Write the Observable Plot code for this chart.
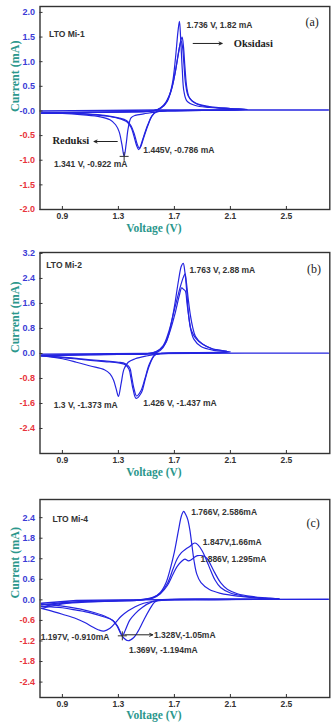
<!DOCTYPE html>
<html>
<head>
<meta charset="utf-8">
<script src="https://cdn.jsdelivr.net/npm/d3@7"></script>
<script src="https://cdn.jsdelivr.net/npm/@observablehq/plot@0.6"></script>
<style>
  html, body { margin: 0; padding: 0; background: #fff; }
  #chart svg { display: block; overflow: visible; }
</style>
</head>
<body>
<div id="chart"></div>
<script>
// Cyclic voltammograms of three LTO samples, current (mA) against voltage (V).

const xTicks = [0.9, 1.3, 1.7, 2.1, 2.5];
const xTickLabels = ["0.9", "1.3", "1.7", "2.1", "2.5"];

// ---- LTO Mi-1 -------------------------------------------------------------
const mi1YTicks = [2.0, 1.5, 1.0, 0.5, 0.0, -0.5, -1.0, -1.5, -2.0];
const mi1YTickLabels = ["2.0", "1.5", "1.0", "0.5", "-0.0", "-0.5", "-1.0", "-1.5", "-2.0"];
const mi1Baseline = [[0.75, 0.0], [1.2, 0.01], [1.6, 0.02], [2.2, 0.02], [2.8, 0.02]];
const mi1Cycle1 = [
  [0.75, -0.05], [0.9, -0.04], [1.1, -0.03], [1.3, -0.02], [1.45, -0.01], [1.55, 0.0],
  [1.6, 0.05], [1.65, 0.2], [1.685, 0.55], [1.708, 1.08], [1.725, 1.6], [1.736, 1.82],
  [1.745, 1.45], [1.756, 0.85], [1.768, 0.4], [1.79, 0.2], [1.85, 0.11], [1.95, 0.07],
  [2.1, 0.04], [2.2, 0.03], [2.0, 0.015], [1.8, 0.01], [1.6, 0.0], [1.55, -0.03],
  [1.48, -0.06], [1.42, -0.09], [1.39, -0.14], [1.37, -0.35], [1.355, -0.68], [1.341, -0.922],
  [1.325, -0.68], [1.305, -0.42], [1.28, -0.28], [1.24, -0.18], [1.17, -0.12], [1.05, -0.08],
  [0.9, -0.05], [0.75, -0.05]
];
const mi1Cycle2 = [
  [0.75, -0.04], [1.0, -0.03], [1.3, -0.02], [1.5, -0.01], [1.58, 0.03], [1.63, 0.13],
  [1.67, 0.35], [1.7, 0.7], [1.725, 1.1], [1.745, 1.42], [1.755, 1.5], [1.765, 1.3],
  [1.775, 0.9], [1.79, 0.45], [1.81, 0.25], [1.86, 0.14], [1.95, 0.08], [2.1, 0.05],
  [2.22, 0.03], [1.9, 0.01], [1.65, 0.0], [1.57, -0.02], [1.54, -0.1], [1.51, -0.3],
  [1.48, -0.55], [1.46, -0.72], [1.445, -0.786], [1.43, -0.7], [1.41, -0.5], [1.39, -0.33],
  [1.36, -0.22], [1.3, -0.15], [1.2, -0.1], [1.05, -0.06], [0.9, -0.04], [0.75, -0.04]
];
const mi1Cycle3 = [
  [0.75, -0.04], [1.1, -0.03], [1.4, -0.02], [1.55, 0.0], [1.6, 0.06], [1.64, 0.18],
  [1.68, 0.45], [1.71, 0.85], [1.73, 1.2], [1.748, 1.42], [1.758, 1.3], [1.768, 0.95],
  [1.78, 0.55], [1.8, 0.3], [1.85, 0.16], [1.95, 0.09], [2.1, 0.05], [2.22, 0.03],
  [1.9, 0.01], [1.65, 0.0], [1.57, -0.02], [1.54, -0.1], [1.51, -0.28], [1.48, -0.52],
  [1.46, -0.7], [1.45, -0.76], [1.435, -0.68], [1.415, -0.48], [1.39, -0.3], [1.36, -0.2],
  [1.3, -0.14], [1.2, -0.09], [1.05, -0.06], [0.9, -0.04], [0.75, -0.04]
];
const mi1Notes = [
  {x: 0.805, y: 1.56, text: "LTO Mi-1", face: "sans"},
  {x: 2.636, y: 1.8, text: "(a)", face: "serif"},
  {x: 1.787, y: 1.73, text: "1.736 V, 1.82 mA", face: "sans"},
  {x: 2.124, y: 1.36, text: "Oksidasi", face: "serifBold"},
  {x: 0.829, y: -0.6, text: "Reduksi", face: "serifBold"},
  {x: 1.478, y: -0.79, text: "1.445V, -0.786 mA", face: "sans"},
  {x: 0.84, y: -1.08, text: "1.341 V, -0.922 mA", face: "sans"}
];
const mi1Arrows = [
  {x1: 1.834, y1: 1.37, x2: 2.041, y2: 1.37},
  {x1: 1.292, y1: -0.62, x2: 1.126, y2: -0.62}
];
const mi1Markers = [[1.341, -0.922]];

// ---- LTO Mi-2 -------------------------------------------------------------
const mi2YTicks = [3.2, 2.4, 1.6, 0.8, 0.0, -0.8, -1.6, -2.4];
const mi2YTickLabels = ["3.2", "2.4", "1.6", "0.8", "0.0", "-0.8", "-1.6", "-2.4"];
const mi2Baseline = [[0.75, -0.02], [1.5, 0.0], [2.2, 0.01], [2.8, 0.01]];
const mi2Cycle1 = [
  [0.75, -0.08], [0.9, -0.06], [1.1, -0.04], [1.3, -0.03], [1.45, -0.02], [1.55, 0.0],
  [1.6, 0.1], [1.64, 0.35], [1.67, 0.8], [1.7, 1.5], [1.73, 2.35], [1.75, 2.8],
  [1.763, 2.88], [1.775, 2.6], [1.788, 2.0], [1.8, 1.3], [1.815, 0.8], [1.84, 0.45],
  [1.89, 0.22], [1.98, 0.1], [2.1, 0.05], [1.9, 0.02], [1.7, 0.01], [1.58, -0.02],
  [1.5, -0.08], [1.42, -0.17], [1.37, -0.28], [1.34, -0.5], [1.32, -0.95], [1.3, -1.373],
  [1.285, -1.15], [1.265, -0.85], [1.24, -0.65], [1.2, -0.52], [1.1, -0.4], [1.0, -0.28],
  [0.9, -0.17], [0.8, -0.1], [0.75, -0.08]
];
const mi2Cycle2 = [
  [0.75, -0.06], [1.0, -0.04], [1.3, -0.03], [1.5, -0.01], [1.57, 0.06], [1.62, 0.25],
  [1.66, 0.7], [1.7, 1.4], [1.74, 2.1], [1.765, 2.45], [1.776, 2.55], [1.785, 2.3],
  [1.8, 1.7], [1.815, 1.2], [1.83, 0.85], [1.85, 0.55], [1.9, 0.3], [1.97, 0.15],
  [2.08, 0.06], [1.8, 0.01], [1.6, 0.0], [1.56, -0.05], [1.52, -0.4], [1.49, -0.85],
  [1.465, -1.25], [1.426, -1.437], [1.405, -1.15], [1.39, -0.8], [1.375, -0.5], [1.35, -0.36],
  [1.3, -0.3], [1.2, -0.26], [1.05, -0.2], [0.9, -0.13], [0.75, -0.08]
];
const mi2Cycle3 = [
  [0.75, -0.06], [1.2, -0.03], [1.5, -0.01], [1.57, 0.05], [1.62, 0.22], [1.66, 0.6],
  [1.7, 1.2], [1.735, 1.85], [1.752, 2.1], [1.765, 2.05], [1.778, 2.0], [1.79, 1.6],
  [1.805, 1.1], [1.82, 0.75], [1.85, 0.5], [1.9, 0.3], [1.97, 0.15], [2.08, 0.06],
  [1.6, 0.0], [1.56, -0.05], [1.52, -0.35], [1.49, -0.8], [1.46, -1.2], [1.43, -1.36],
  [1.41, -1.1], [1.395, -0.75], [1.38, -0.45], [1.35, -0.33], [1.3, -0.28], [1.2, -0.24],
  [1.05, -0.18], [0.9, -0.12], [0.75, -0.08]
];
const mi2Notes = [
  {x: 0.785, y: 2.81, text: "LTO Mi-2", face: "sans"},
  {x: 2.648, y: 2.7, text: "(b)", face: "serif"},
  {x: 1.807, y: 2.67, text: "1.763 V, 2.88 mA", face: "sans"},
  {x: 0.838, y: -1.656, text: "1.3 V, -1.373 mA", face: "sans"},
  {x: 1.478, y: -1.6, text: "1.426 V, -1.437 mA", face: "sans"}
];

// ---- LTO Mi-4 -------------------------------------------------------------
const mi4YTicks = [2.4, 1.8, 1.2, 0.6, 0.0, -0.6, -1.2, -1.8, -2.4];
const mi4YTickLabels = ["2.4", "1.8", "1.2", "0.6", "0.0", "-0.6", "-1.2", "-1.8", "-2.4"];
const mi4Baseline = [[0.75, -0.1], [1.0, -0.02], [1.3, 0.0], [2.0, 0.01], [2.8, 0.02]];
const mi4Cycle1 = [
  [0.75, -0.15], [0.9, -0.08], [1.1, -0.04], [1.3, -0.02], [1.45, 0.0], [1.55, 0.08],
  [1.6, 0.22], [1.64, 0.5], [1.67, 0.9], [1.7, 1.4], [1.73, 2.05], [1.75, 2.45],
  [1.766, 2.586], [1.78, 2.5], [1.795, 2.35], [1.81, 2.05], [1.825, 1.6], [1.84, 1.15],
  [1.86, 0.75], [1.89, 0.5], [1.95, 0.3], [2.03, 0.19], [2.15, 0.11], [2.3, 0.06],
  [2.45, 0.03], [2.0, 0.01], [1.6, 0.0], [1.54, -0.06], [1.47, -0.22], [1.42, -0.4],
  [1.38, -0.6], [1.35, -0.88], [1.328, -1.05], [1.31, -0.9], [1.29, -0.74], [1.26, -0.6],
  [1.2, -0.47], [1.1, -0.34], [1.0, -0.25], [0.9, -0.18], [0.8, -0.13], [0.75, -0.12]
];
const mi4Cycle2 = [
  [0.75, -0.2], [0.9, -0.1], [1.1, -0.05], [1.3, -0.03], [1.45, -0.01], [1.55, 0.07],
  [1.6, 0.2], [1.65, 0.48], [1.69, 0.9], [1.72, 1.2], [1.75, 1.38], [1.78, 1.48],
  [1.81, 1.56], [1.83, 1.63], [1.847, 1.66], [1.87, 1.6], [1.9, 1.42], [1.93, 1.15],
  [1.96, 0.85], [1.99, 0.58], [2.03, 0.36], [2.1, 0.2], [2.2, 0.11], [2.32, 0.05],
  [2.45, 0.02], [1.6, 0.0], [1.56, -0.06], [1.52, -0.3], [1.48, -0.6], [1.44, -0.92],
  [1.41, -1.1], [1.369, -1.194], [1.34, -1.12], [1.315, -0.97], [1.29, -0.76], [1.26, -0.6],
  [1.2, -0.5], [1.1, -0.38], [1.0, -0.3], [0.9, -0.23], [0.75, -0.18]
];
const mi4Cycle3 = [
  [0.75, -0.25], [0.9, -0.12], [1.1, -0.06], [1.3, -0.03], [1.45, -0.01], [1.55, 0.06],
  [1.6, 0.18], [1.65, 0.42], [1.69, 0.75], [1.72, 0.98], [1.75, 1.12], [1.775, 1.19],
  [1.8, 1.14], [1.82, 1.17], [1.845, 1.25], [1.865, 1.29], [1.886, 1.295], [1.91, 1.28],
  [1.935, 1.2], [1.96, 1.02], [1.99, 0.78], [2.03, 0.5], [2.08, 0.3], [2.15, 0.18],
  [2.25, 0.1], [2.35, 0.06], [2.45, 0.03], [1.7, 0.0], [1.55, -0.04], [1.48, -0.1],
  [1.42, -0.2], [1.37, -0.32], [1.32, -0.48], [1.28, -0.66], [1.24, -0.83], [1.197, -0.91],
  [1.16, -0.88], [1.12, -0.8], [1.06, -0.66], [1.0, -0.55], [0.9, -0.42], [0.8, -0.3],
  [0.75, -0.25]
];
const mi4Notes = [
  {x: 0.829, y: 2.35, text: "LTO Mi-4", face: "sans"},
  {x: 2.643, y: 2.23, text: "(c)", face: "serif"},
  {x: 1.82, y: 2.565, text: "1.766V, 2.586mA", face: "sans"},
  {x: 1.903, y: 1.69, text: "1.847V,1.66mA", face: "sans"},
  {x: 1.887, y: 1.18, text: "1.886V, 1.295mA", face: "sans"},
  {x: 0.745, y: -1.09, text: "1.197V, -0.910mA", face: "sans"},
  {x: 1.554, y: -1.02, text: "1.328V,-1.05mA", face: "sans"},
  {x: 1.376, y: -1.48, text: "1.369V, -1.194mA", face: "sans"}
];
const mi4Arrows = [{x1: 1.345, y1: -1.02, x2: 1.545, y2: -1.02}];
const mi4Markers = [[1.328, -1.05]];

// ---- shared drawing ---------------------------------------------------------
const xDomain = [0.74, 2.81];
const curveBlue = "#2424e0";
const tickBlue = "#3b3bd6";
const tickRed = "#e8343c";
const titleTeal = "#2b978c";
const sansFont = "'Liberation Sans', Arial, sans-serif";
const serifFont = "'Liberation Serif', 'Times New Roman', serif";

function panel(cfg) {
  const W = 334, mL = 39.5, mR = 4.7;
  const frameW = W - mL - mR;
  const frameH = cfg.height - cfg.marginTop - cfg.marginBottom;
  const xy = {x: (d) => d[0], y: (d) => d[1]};
  const faceStyle = {
    sans: {fontFamily: sansFont, fontWeight: "bold", fontSize: 8.5, fill: "#333"},
    serif: {fontFamily: serifFont, fontSize: 12, fill: "#222"},
    serifBold: {fontFamily: serifFont, fontWeight: "bold", fontSize: 10.5, fill: "#222"}
  };
  const noteMarks = Object.entries(faceStyle).map(([face, style]) =>
    Plot.text(cfg.notes.filter((n) => n.face === face), {
      x: "x", y: "y", text: "text", textAnchor: "start", ...style
    })
  );
  return Plot.plot({
    width: W,
    height: cfg.height,
    marginLeft: mL,
    marginRight: mR,
    marginTop: cfg.marginTop,
    marginBottom: cfg.marginBottom,
    style: {background: "transparent", overflow: "visible"},
    x: {domain: xDomain, axis: null},
    y: {domain: cfg.yDomain, axis: null},
    marks: [
      Plot.line(cfg.baseline, {...xy, stroke: curveBlue, strokeWidth: 1.4}),
      ...cfg.cycles.map((c) =>
        Plot.line(c, {...xy, stroke: curveBlue, strokeWidth: 1.2, curve: "catmull-rom"})
      ),
      Plot.dot(cfg.markers || [], {...xy, symbol: "plus", r: 3, stroke: "#333", strokeWidth: 1}),
      Plot.arrow(cfg.arrows || [], {
        x1: "x1", y1: "y1", x2: "x2", y2: "y2",
        stroke: "#222", strokeWidth: 1, headLength: 5, headAngle: 50
      }),
      ...noteMarks,
      Plot.frame({stroke: "#333", strokeWidth: 1.4}),
      Plot.tickY(cfg.yTicks, {y: (d) => d, stroke: "#333", insetRight: frameW - 3}),
      Plot.tickX(xTicks, {x: (d) => d, stroke: "#333", insetTop: frameH - 3}),
      Plot.text(cfg.yTicks, {
        y: (d) => d,
        text: (d, i) => cfg.yTickLabels[i],
        frameAnchor: "left", textAnchor: "end", dx: -5,
        fill: (d) => (d < 0 ? tickRed : tickBlue),
        fontFamily: sansFont, fontWeight: "bold", fontSize: 9
      }),
      Plot.text(xTicks, {
        x: (d) => d,
        text: (d, i) => xTickLabels[i],
        frameAnchor: "bottom", dy: 9.5,
        fill: "#333", fontFamily: sansFont, fontWeight: "bold", fontSize: 8.5
      }),
      Plot.text(["Voltage (V)"], {
        text: (d) => d, frameAnchor: "bottom", dx: -31, dy: cfg.xTitleDy,
        fill: titleTeal, fontFamily: serifFont, fontWeight: "bold", fontSize: 11.5
      }),
      Plot.text(["Current (mA)"], {
        text: (d) => d, frameAnchor: "left", rotate: -90, dx: -24.5, dy: cfg.yTitleDy || 0,
        fill: titleTeal, fontFamily: serifFont, fontWeight: "bold", fontSize: 12
      })
    ]
  });
}

const chart = document.getElementById("chart");

chart.append(panel({
  height: 240, marginTop: 6, marginBottom: 31, yDomain: [-2.0, 2.12],
  yTicks: mi1YTicks, yTickLabels: mi1YTickLabels,
  baseline: mi1Baseline, cycles: [mi1Cycle1, mi1Cycle2, mi1Cycle3],
  notes: mi1Notes, arrows: mi1Arrows, markers: mi1Markers,
  xTitleDy: 22, yTitleDy: 4
}));

chart.append(panel({
  height: 240, marginTop: 12, marginBottom: 27, yDomain: [-3.2, 3.23],
  yTicks: mi2YTicks, yTickLabels: mi2YTickLabels,
  baseline: mi2Baseline, cycles: [mi2Cycle1, mi2Cycle2, mi2Cycle3],
  notes: mi2Notes,
  xTitleDy: 22
}));

chart.append(panel({
  height: 242, marginTop: 19, marginBottom: 25, yDomain: [-2.85, 2.93],
  yTicks: mi4YTicks, yTickLabels: mi4YTickLabels,
  baseline: mi4Baseline, cycles: [mi4Cycle1, mi4Cycle2, mi4Cycle3],
  notes: mi4Notes, arrows: mi4Arrows, markers: mi4Markers,
  xTitleDy: 21.5
}));
</script>
</body>
</html>
